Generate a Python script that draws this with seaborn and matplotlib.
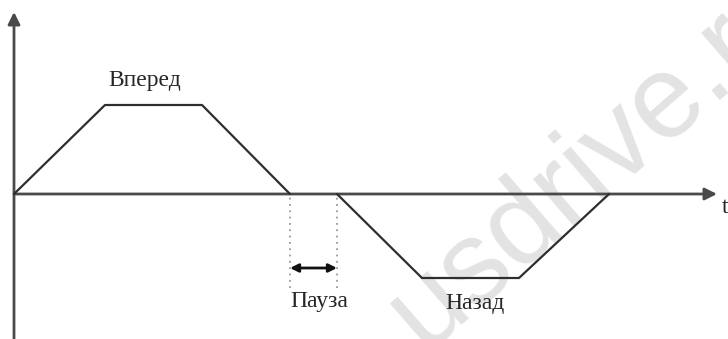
import pandas as pd
import matplotlib
matplotlib.use('Agg')
import matplotlib.pyplot as plt
import seaborn as sns

# Trapezoid speed profile: forward run, pause, reverse run
time_pts = [0, 91, 188, 276, 323, 408, 505, 595]
speed_pts = [0, 89, 89, 0, 0, -84, -84, 0]
phase = ['fwd', 'fwd', 'fwd', 'fwd', 'rev', 'rev', 'rev', 'rev']

pause_start = 276
pause_end = 323

label_fwd = 'Вперед'
label_pause = 'Пауза'
label_back = 'Назад'
label_t = 't'
watermark = 'usdrive.ru'

OUTPUT_IMAGE_PATH = 'out.png'


def draw_profile():
    sns.set_style('white')
    plt.rcParams['font.family'] = ['Liberation Serif', 'DejaVu Serif']

    fig = plt.figure(figsize=(7.28, 3.39), dpi=100)
    ax = fig.add_axes([0, 0, 1, 1])
    ax.set_xlim(-14, 714)
    ax.set_ylim(-145, 194)
    ax.axis('off')

    # watermark, under the drawing
    ax.text(0.582, -0.035, watermark, transform=fig.transFigure,
            rotation=41, rotation_mode='anchor', ha='left', va='baseline',
            fontsize=85, color='#e3e3e3', clip_on=False, zorder=0,
            family=['Liberation Sans', 'DejaVu Sans'])

    # axes with arrow heads
    ax.annotate('', xy=(0, 182), xytext=(0, -145),
                arrowprops=dict(arrowstyle='-|>', color='#4a4a4a', lw=2,
                                mutation_scale=18, shrinkA=0, shrinkB=0))
    ax.annotate('', xy=(703, 0), xytext=(0, 0),
                arrowprops=dict(arrowstyle='-|>', color='#4a4a4a', lw=2,
                                mutation_scale=18, shrinkA=0, shrinkB=0))

    df = pd.DataFrame({'t': time_pts, 'v': speed_pts, 'phase': phase})
    sns.lineplot(data=df, x='t', y='v', units='phase', estimator=None,
                 sort=False, color='#2e2e2e', lw=1.6, ax=ax, zorder=3)

    # pause markers
    ax.vlines([pause_start, pause_end], -94, 0, colors='#9a9a9a',
              linestyles=(0, (1, 2.5)), lw=1.3)
    ax.annotate('', xy=(pause_start, -74), xytext=(pause_end, -74),
                arrowprops=dict(arrowstyle='<|-|>', color='#111111', lw=2,
                                mutation_scale=12, shrinkA=0, shrinkB=0))

    ax.text(131, 108, label_fwd, ha='center', va='baseline', fontsize=17)
    ax.text(305, -113.5, label_pause, ha='center', va='baseline', fontsize=17)
    ax.text(461, -114.5, label_back, ha='center', va='baseline', fontsize=17)
    ax.text(708, -19, label_t, ha='left', va='baseline', fontsize=17)

    fig.savefig(OUTPUT_IMAGE_PATH, dpi=100)
    plt.close(fig)


if __name__ == '__main__':
    draw_profile()
